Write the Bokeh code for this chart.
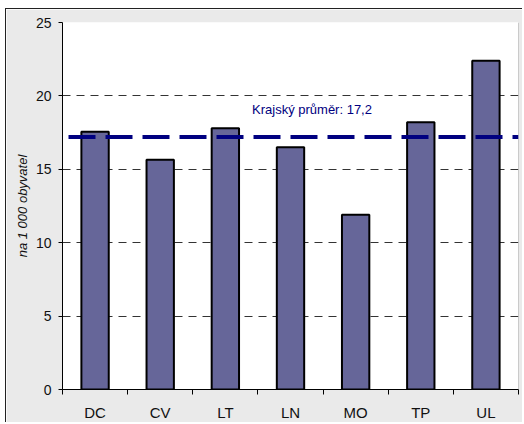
from bokeh.plotting import figure
from bokeh.models import (Range1d, LinearAxis, FixedTicker, Span, Label, Grid)
from bokeh.embed import file_html
from bokeh.resources import INLINE

categories = ["DC", "CV", "LT", "LN", "MO", "TP", "UL"]
values = [17.55, 15.65, 17.8, 16.5, 11.9, 18.2, 22.4]
regional_avg = 17.2
avg_label = "Krajský průměr: 17,2"
y_ticks = [0, 5, 10, 15, 20, 25]
y_label = "na 1 000 obyvatel"

FONT = "Liberation Sans"

n = len(categories)
xs = [i + 0.5 for i in range(n)]

p = figure(width=517, height=414, output_backend="svg", toolbar_location=None,
           x_range=Range1d(0, n), y_range=Range1d(y_ticks[0], y_ticks[-1]),
           x_axis_type=None, y_axis_type=None,
           min_border_left=56, min_border_right=5, min_border_top=13, min_border_bottom=34,
           background_fill_color="white", border_fill_color="#eaeaea",
           outline_line_color=None)
p.styles = {"margin-left": "5px", "margin-top": "8px",
            "border-left": "1px solid #222", "border-top": "1px solid #222"}

# y axis
yax = LinearAxis(ticker=FixedTicker(ticks=y_ticks, minor_ticks=[]))
yax.axis_line_color = "black"
yax.major_tick_in = 0
yax.major_tick_out = 4
yax.major_tick_line_color = "black"
yax.minor_tick_line_color = None
yax.major_label_standoff = 7
yax.major_label_text_font = FONT
yax.major_label_text_font_size = "14px"
yax.major_label_text_color = "#111"
yax.axis_label = y_label
yax.axis_label_text_font = FONT
yax.axis_label_text_font_size = "13px"
yax.axis_label_text_font_style = "italic"
yax.axis_label_text_color = "#111"
yax.axis_label_standoff = 3
p.add_layout(yax, "left")

# x axis: labels at category centres, tick marks at boundaries
xax = LinearAxis(ticker=FixedTicker(ticks=xs, minor_ticks=list(range(n + 1))))
xax.major_label_overrides = {x: c for x, c in zip(xs, categories)}
xax.axis_line_color = "black"
xax.major_tick_line_color = None
xax.major_tick_in = 0
xax.major_tick_out = 0
xax.minor_tick_in = 0
xax.minor_tick_out = 5
xax.minor_tick_line_color = "black"
xax.major_label_standoff = 9
xax.major_label_text_font = FONT
xax.major_label_text_font_size = "15px"
xax.major_label_text_color = "#111"
p.add_layout(xax, "below")

p.add_layout(Grid(dimension=1, ticker=FixedTicker(ticks=y_ticks),
                  grid_line_color="#333333", grid_line_dash="8 6", grid_line_width=1))

p.vbar(x=xs, top=values, width=0.42, bottom=0,
       fill_color="#666699", line_color="black", line_width=2)

# right border of plot area
p.add_layout(Span(location=n, dimension="height", line_color="#9a9a9a", line_width=1))

p.add_layout(Span(location=regional_avg, dimension="width", line_color="#000080",
                  line_width=4, line_dash="27 10", line_dash_offset=31))
p.add_layout(Label(x=3.83, y=19.1, text=avg_label, text_align="center",
                   text_baseline="middle", text_font=FONT, text_font_size="13px",
                   text_color="#000080"))

open("out.html", "w").write(file_html(p, INLINE))
